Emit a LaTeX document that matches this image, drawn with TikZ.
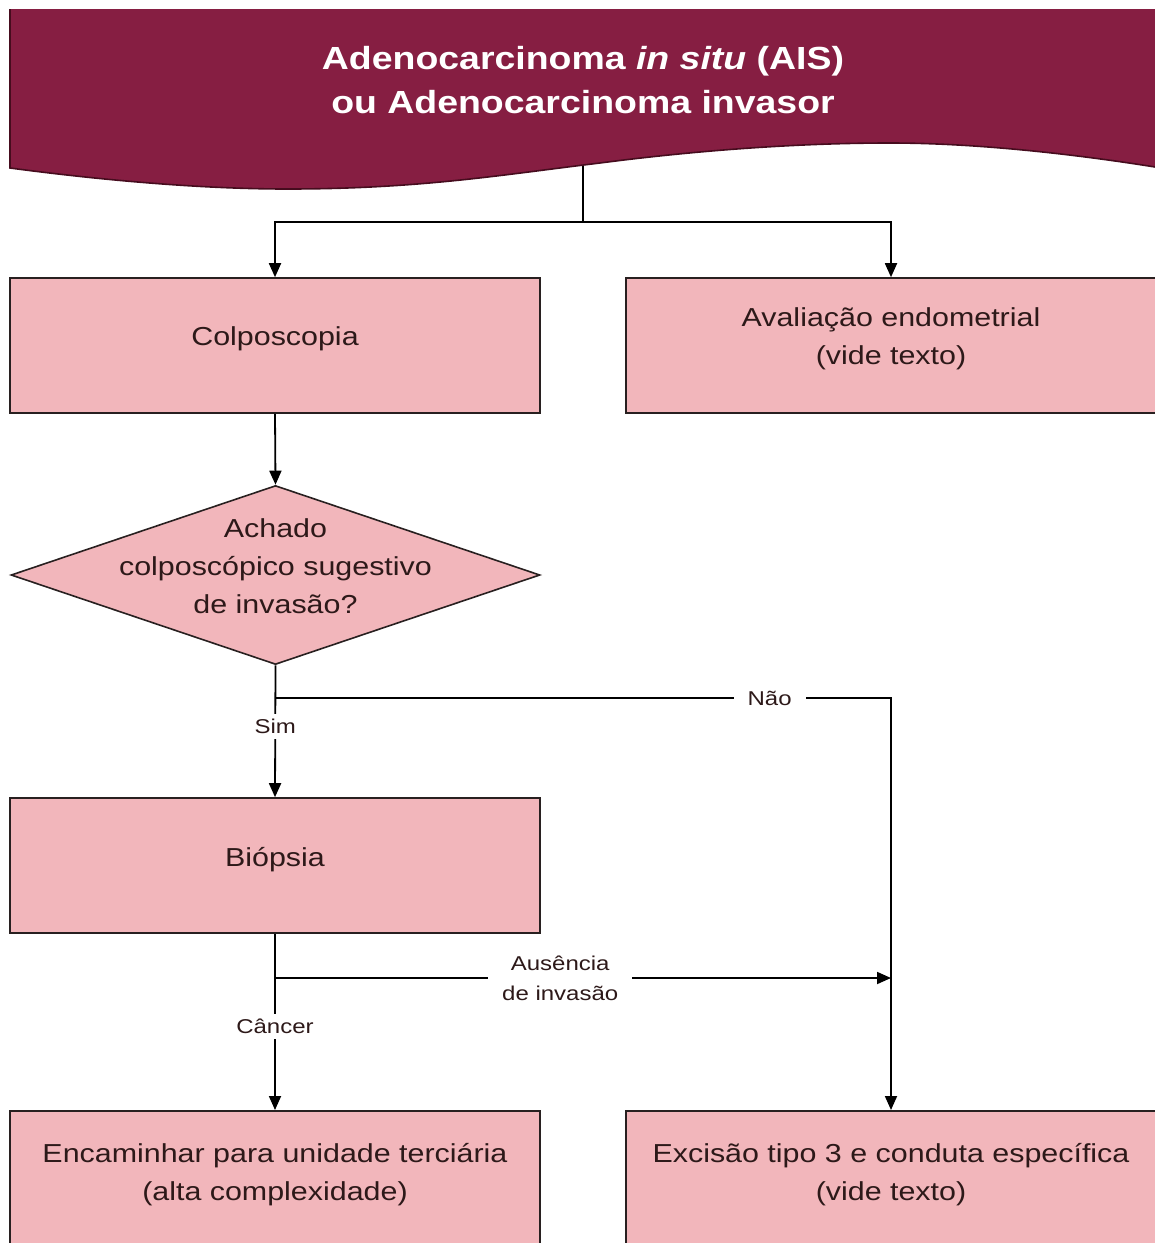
\documentclass[tikz,border=0pt]{standalone}
\usepackage{fontspec}
\setmainfont{Liberation Sans}
\newfontfamily\wideface[FakeStretch=1.17]{Liberation Sans}
\newfontfamily\widelbl[FakeStretch=1.2]{Liberation Sans}
\usetikzlibrary{arrows.meta,shapes.geometric}
\definecolor{headred}{RGB}{134,30,66}
\definecolor{headedge}{RGB}{70,12,30}
\definecolor{boxpink}{RGB}{242,182,187}
\definecolor{edge}{RGB}{40,32,32}
\definecolor{ink}{RGB}{45,25,25}
\tikzset{
  x=1pt, y=-1pt,
  boxnode/.style={draw=edge, line width=1.6pt, fill=boxpink, rectangle,
    minimum height=135pt, inner sep=0pt, text=ink, align=center, text depth=18pt,
    font=\wideface\fontsize{26}{38}\selectfont},
  boxtext/.style={text=ink, align=center, font=\wideface\fontsize{26}{38}\selectfont},
  decnode/.style={draw=edge, line width=1.6pt, fill=boxpink, diamond,
    shape aspect=2.955, minimum width=529pt, minimum height=179pt, inner sep=0pt},
  lbl/.style={fill=white, inner xsep=14pt, inner ysep=5pt, text=ink, align=center,
    font=\widelbl\fontsize{20}{30}\selectfont},
  conn/.style={draw=black, line width=1.8pt},
  arr/.style={conn, -{Triangle[length=14pt,width=12pt]}},
}
\begin{document}
\begin{tikzpicture}
\useasboundingbox (0,0) rectangle (1155,1243);
\clip (0,0) rectangle (1155,1243);

% stem leaving the header (drawn first so the banner covers its top)
\coordinate (hb) at (583,150);
\coordinate (split) at (583,222);
\draw[conn] (hb) -- (split);

% banner with wavy lower edge
\fill[headred] (10,9) -- (1160,9) -- (1160,168) -- (1155,167)
  .. controls (1080,155) and (980,143) .. (890,143)
  .. controls (800,143) and (700,150) .. (600,163)
  .. controls (500,175) and (420,189) .. (287,189)
  .. controls (200,189) and (100,180) .. (10,168) -- cycle;
\draw[headedge, line width=1.6pt] (10,9) -- (10,168)
  .. controls (100,180) and (200,189) .. (287,189)
  .. controls (420,189) and (500,175) .. (600,163)
  .. controls (700,150) and (800,143) .. (890,143)
  .. controls (980,143) and (1080,155) .. (1155,167);
\node[text=white, align=center, font=\bfseries\wideface\fontsize{32}{44}\selectfont]
  (title) at (583,80) {Adenocarcinoma \textit{in situ} (AIS)\\ou Adenocarcinoma invasor};

% boxes
\node[boxnode, minimum width=530pt] (colp) at (275,345.5) {Colposcopia};
\node[boxnode, minimum width=530pt] (aval) at (891,345.5) {Avaliação endometrial\\(vide texto)};
\node[decnode] (dec) at (275.5,575) {};
\node[boxtext] (dectext) at (275.5,566) {Achado\\colposcópico sugestivo\\de invasão?};
\node[boxnode, minimum width=530pt] (biop) at (275,865.5) {Biópsia};
\node[boxnode, minimum width=530pt, minimum height=170pt, anchor=north] (enc) at (275,1110) {};
\node[boxtext] (enctext) at (275,1175) {Encaminhar para unidade terciária\\(alta complexidade)};
\node[boxnode, minimum width=530pt, minimum height=170pt, anchor=north] (exc) at (891,1110) {};
\node[boxtext] (exctext) at (891,1175) {Excisão tipo 3 e conduta específica\\(vide texto)};

% connectors
\draw[arr] (split) -| (colp.north);
\draw[arr] (split) -| (aval.north);
\draw[arr] (colp.south) -- (dec.north);

\coordinate (nj) at (275,698);
\coordinate (nc) at (891,698);
\draw[arr] (dec.south) -- node[lbl, pos=0.466] (sim) {Sim} (biop.north);
\draw[arr] (nj) -- node[lbl, pos=0.803] (nao) {Não} (nc) -- (exc.north);

\coordinate (bj) at (275,978);
\coordinate (bc) at (891,978);
\draw[arr] (bj) -- node[lbl, pos=0.463, inner ysep=2pt] (aus) {Ausência\\de invasão} (bc);
\draw[arr] (biop.south) -- node[lbl, pos=0.525] (canc) {Câncer} (enc.north);
\end{tikzpicture}
\end{document}
